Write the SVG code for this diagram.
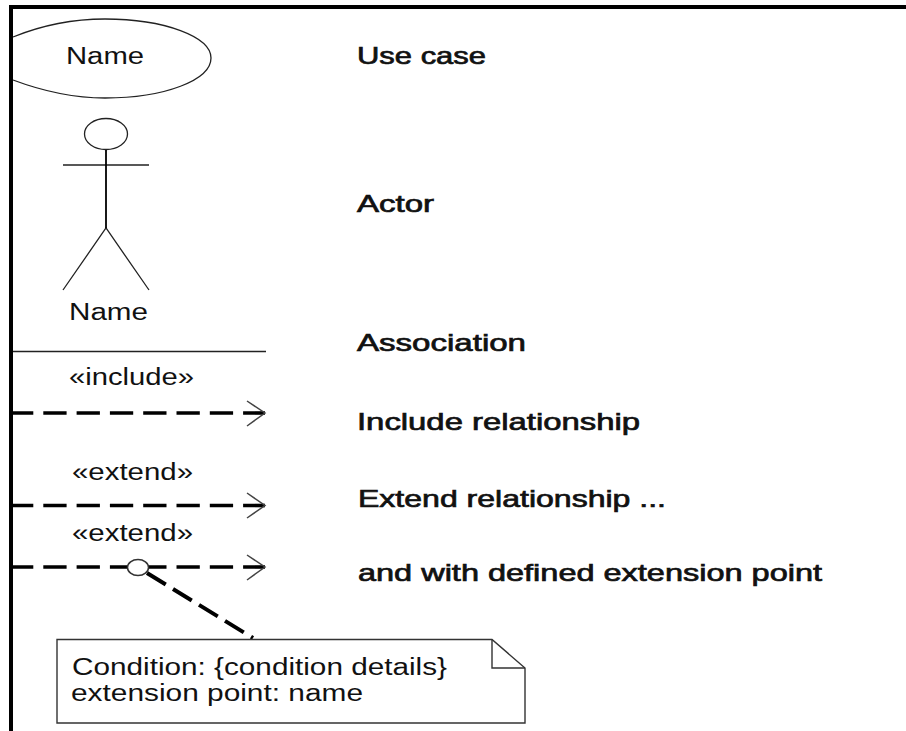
<svg xmlns="http://www.w3.org/2000/svg" width="906" height="731" viewBox="0 0 906 731">
<style>
text{font-family:"Liberation Sans",Arial,sans-serif;fill:#111}
.s{font-size:23px}
.b{font-size:24px;stroke:#111;stroke-width:.7px}
.t{fill:none;stroke:#222;stroke-width:1.300}
.d{fill:none;stroke:#000;stroke-width:3.600;stroke-dasharray:23.300 10}
.o{fill:none;stroke:#000;stroke-width:4;stroke-dasharray:22 8.500}
.a{fill:none;stroke:#444;stroke-width:1.500}
</style>
<rect width="906" height="731" fill="#fff"/>
<g id="frame"><rect x="9" y="5" width="897" height="4" fill="#000"/><rect x="9" y="5" width="4" height="726" fill="#000"/></g>
<g id="use-case"><path class="t" d="M13 37C45 24 75 19 105 19C165 19 211 37 211 58C211 80 165 98 105 98C75 98 45 92 13 80"/><text class="s" x="66" y="64" textLength="78" lengthAdjust="spacingAndGlyphs">Name</text><text class="b" x="357" y="64" textLength="129" lengthAdjust="spacingAndGlyphs">Use case</text></g>
<g id="actor"><ellipse class="t" cx="106" cy="134" rx="21.500" ry="15.500"/><path class="t" d="M63 165H149M63 290L106 228L149 290"/><path fill="none" stroke="#000" stroke-width="1.800" d="M106 150V228"/><text class="s" x="69" y="320" textLength="79" lengthAdjust="spacingAndGlyphs">Name</text><text class="b" x="357" y="212" textLength="77" lengthAdjust="spacingAndGlyphs">Actor</text></g>
<g id="association"><path class="t" d="M13 351.500H266"/><text class="b" x="357" y="351" textLength="169" lengthAdjust="spacingAndGlyphs">Association</text></g>
<g id="connectors">
<path class="d" d="M10 413H265"/><path class="a" d="M247 401L265 413L247 426"/>
<path class="d" d="M10 505.500H265"/><path class="a" d="M247 493L265 505.500L247 518"/>
<path class="d" d="M10 567H265"/><path class="a" d="M247 555L265 567L247 580"/>
<path class="o" d="M147 573L253 638"/>
</g>
<g id="include"><text class="s" x="69" y="385" textLength="125" lengthAdjust="spacingAndGlyphs">«include»</text><text class="b" x="357" y="430" textLength="283" lengthAdjust="spacingAndGlyphs">Include relationship</text></g>
<g id="extend"><text class="s" x="72" y="480" textLength="121" lengthAdjust="spacingAndGlyphs">«extend»</text><text class="b" x="358" y="507" textLength="308" lengthAdjust="spacingAndGlyphs">Extend relationship ...</text></g>
<g id="extension"><text class="s" x="72" y="541" textLength="121" lengthAdjust="spacingAndGlyphs">«extend»</text><ellipse cx="138" cy="567.500" rx="10.500" ry="8" fill="#fff" stroke="#333" stroke-width="1.500"/><text class="b" x="358" y="581" textLength="464" lengthAdjust="spacingAndGlyphs">and with defined extension point</text></g>
<g id="note"><path d="M57 639.500H492L525 668V723H57Z" fill="#fff" stroke="#333" stroke-width="1.400"/><path d="M492 639.500V668H525" fill="none" stroke="#333" stroke-width="1.400"/><text class="s" x="72" y="675" textLength="375" lengthAdjust="spacingAndGlyphs">Condition: {condition details}</text><text class="s" x="71" y="701" textLength="292" lengthAdjust="spacingAndGlyphs">extension point: name</text></g>
</svg>
